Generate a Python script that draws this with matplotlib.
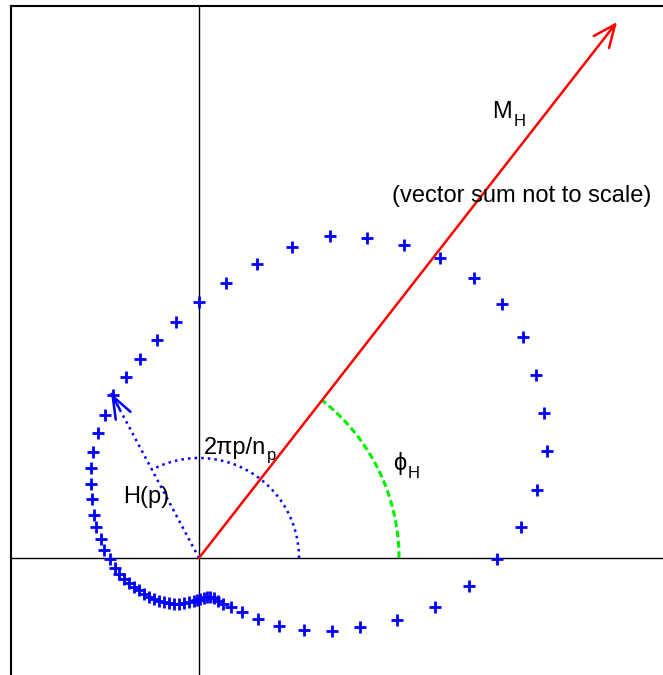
import numpy as np
import matplotlib
matplotlib.use('Agg')
import matplotlib.pyplot as plt

plt.rcParams['font.family'] = ['Liberation Sans', 'DejaVu Sans']

# H(p) points (going round the loop)
hx = [0.00, 0.27, 0.58, 0.93, 1.31, 1.68, 2.05, 2.41, 2.75, 3.03, 3.24, 3.37,
      3.45, 3.48, 3.38, 3.22, 2.98, 2.70, 2.36, 1.98, 1.61, 1.33, 1.05, 0.80,
      0.59, 0.43, 0.32, 0.24, 0.19, 0.15, 0.11, 0.08, 0.05, 0.01, -0.02, -0.05,
      -0.10, -0.15, -0.20, -0.25, -0.30, -0.35, -0.40, -0.45, -0.50, -0.55,
      -0.60, -0.65, -0.70, -0.75, -0.80, -0.84, -0.89, -0.95, -0.98, -1.03,
      -1.05, -1.07, -1.08, -1.08, -1.06, -1.01, -0.94, -0.86, -0.73, -0.59,
      -0.42, -0.23]
hy = [2.56, 2.75, 2.94, 3.11, 3.22, 3.20, 3.13, 3.00, 2.80, 2.54, 2.21, 1.83,
      1.45, 1.07, 0.68, 0.31, -0.01, -0.28, -0.49, -0.62, -0.69, -0.73, -0.72,
      -0.68, -0.61, -0.54, -0.49, -0.46, -0.43, -0.40, -0.39, -0.39, -0.40,
      -0.41, -0.42, -0.43, -0.44, -0.45, -0.46, -0.46, -0.45, -0.44, -0.43,
      -0.41, -0.39, -0.36, -0.32, -0.29, -0.25, -0.21, -0.16, -0.10, -0.01,
      0.08, 0.19, 0.31, 0.43, 0.59, 0.74, 0.90, 1.06, 1.25, 1.43, 1.63, 1.81,
      1.99, 2.18, 2.36]

# vectors
mh = (4.18, 5.36)      # M_H (not to scale)
hp = (-0.88, 1.65)     # H(p)
r_small = 1.0
r_big = 2.0

fig = plt.figure(figsize=(6.63, 6.75), dpi=100)
ax = fig.add_axes([11 / 663, 0, 652 / 663, 669 / 675])
ax.set_xlim(-1.88, 4.64)
ax.set_ylim(-1.17, 5.52)
ax.set_xticks([])
ax.set_yticks([])
ax.spines['right'].set_visible(False)
ax.spines['bottom'].set_visible(False)
for s in ['left', 'top']:
    ax.spines[s].set_linewidth(1.5)

ax.axhline(0, color='k', lw=1)
ax.axvline(0, color='k', lw=1)

# points
ax.plot(hx, hy, '+', color='b', markersize=8.5, mew=2)

# arcs
ang_m = np.arctan2(mh[1], mh[0])
ang_h = np.arctan2(hp[1], hp[0])
t = np.linspace(0, ang_m, 60)
ax.plot(r_big * np.cos(t), r_big * np.sin(t), color='#00ee00', lw=2.2,
        dashes=(2.2, 1.2))
t = np.linspace(0, ang_h, 100)
ax.plot(r_small * np.cos(t), r_small * np.sin(t), ':', color='b', lw=1.8)

# H(p) vector
ax.plot([0, hp[0]], [0, hp[1]], ':', color='b', lw=1.8)
ax.annotate('', xy=hp, xytext=(hp[0] * 0.9, hp[1] * 0.9),
            arrowprops=dict(arrowstyle='->,head_length=0.8,head_width=0.3',
                            color='b', lw=1.8, mutation_scale=20,
                            shrinkA=0, shrinkB=0))

# M_H vector
ax.annotate('', xy=mh, xytext=(0, 0),
            arrowprops=dict(arrowstyle='->,head_length=0.8,head_width=0.35',
                            color='r', lw=1.8, mutation_scale=20,
                            shrinkA=0, shrinkB=0))


def label(x, y, main, sub=None, drop=6):
    # main text ends at x, subscript starts there, lowered
    if sub is None:
        ax.text(x, y, main, fontsize=17, ha='left', va='baseline')
        return
    ax.text(x, y, main, fontsize=17, ha='right', va='baseline')
    ax.annotate(sub, xy=(x, y), xytext=(1, -drop), textcoords='offset points',
                fontsize=12, ha='left', va='baseline')


label(3.13, 4.40, 'M', 'H')
label(1.93, 3.56, '(vector sum not to scale)')
label(-0.76, 0.55, 'H(p)')
label(0.67, 1.04, '2πp/n', 'p', drop=4)
label(2.07, 0.88, 'ϕ', 'H')

fig.savefig('out.png', dpi=100)
